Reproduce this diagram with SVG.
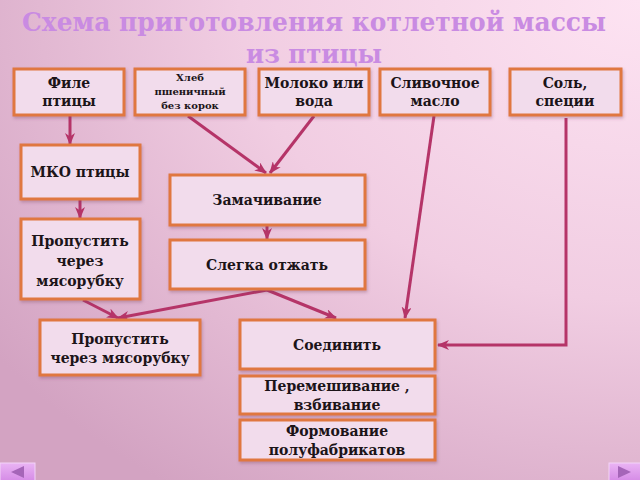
<svg xmlns="http://www.w3.org/2000/svg" width="640" height="480" viewBox="0 0 640 480">
<defs>
<radialGradient id="bg" cx="1" cy="0" r="1.25" gradientUnits="objectBoundingBox">
<stop offset="0" stop-color="#fde3f2"/>
<stop offset="0.5" stop-color="#f1cde2"/>
<stop offset="1" stop-color="#d3a3c2"/>
</radialGradient>
<linearGradient id="btn" x1="0" y1="0" x2="0" y2="1">
<stop offset="0" stop-color="#eab4f4"/>
<stop offset="1" stop-color="#d58be6"/>
</linearGradient>
<filter id="sh" x="-10%" y="-10%" width="120%" height="130%">
<feDropShadow dx="1" dy="2" stdDeviation="1.5" flood-color="#7a4060" flood-opacity="0.35"/>
</filter>
<marker id="ah" viewBox="0 0 12 10" refX="11" refY="5" markerWidth="12" markerHeight="10" markerUnits="userSpaceOnUse" orient="auto">
<path d="M0,0 L12,5 L0,10 L3.5,5 z" fill="#b53468"/>
</marker>
<style>
.box{fill:#f2dcec;stroke:#e0773f;stroke-width:3;filter:url(#sh)}
.t{font-family:"DejaVu Serif","Liberation Serif",serif;font-weight:bold;fill:#1c1418;text-anchor:middle}
.c{fill:none;stroke:#b53468;stroke-width:3;marker-end:url(#ah)}
.title{font-family:"DejaVu Serif","Liberation Serif",serif;font-weight:bold;fill:#c98be2;text-anchor:middle}
</style>
</defs>
<rect width="640" height="480" fill="url(#bg)"/>
<g id="title">
<text class="title" x="314" y="31" font-size="26" textLength="584" lengthAdjust="spacingAndGlyphs">Схема приготовления котлетной массы</text>
<text class="title" x="314" y="63" font-size="26" textLength="136" lengthAdjust="spacingAndGlyphs">из птицы</text>
</g>
<g id="connectors">
<line class="c" x1="70" y1="116" x2="70" y2="144"/>
<line class="c" x1="80" y1="200" x2="80" y2="218"/>
<line class="c" x1="188" y1="116" x2="266" y2="173"/>
<line class="c" x1="314" y1="116" x2="270" y2="173"/>
<line class="c" x1="267" y1="226" x2="267" y2="239"/>
<line class="c" x1="267" y1="290" x2="118" y2="318"/>
<line class="c" x1="83" y1="300" x2="118" y2="318"/>
<line class="c" x1="267" y1="290" x2="336" y2="318"/>
<line class="c" x1="434" y1="116" x2="405" y2="318"/>
<polyline class="c" points="566,118 566,345 438,345"/>
</g>
<g id="n-file"><rect class="box" x="14" y="69" width="110" height="46"/><text class="t" font-size="14" x="69" y="88">Филе</text><text class="t" font-size="14" x="69" y="106">птицы</text></g>
<g id="n-hleb"><rect class="box" x="135" y="69" width="110" height="46"/><text class="t" font-size="10" x="190" y="81">Хлеб</text><text class="t" font-size="10" x="190" y="95">пшеничный</text><text class="t" font-size="10" x="190" y="109">без корок</text></g>
<g id="n-moloko"><rect class="box" x="259" y="69" width="110" height="46"/><text class="t" font-size="14" x="314" y="88">Молоко или</text><text class="t" font-size="14" x="314" y="106">вода</text></g>
<g id="n-maslo"><rect class="box" x="380" y="69" width="110" height="46"/><text class="t" font-size="14" x="435" y="88">Сливочное</text><text class="t" font-size="14" x="435" y="106">масло</text></g>
<g id="n-sol"><rect class="box" x="510" y="69" width="111" height="46"/><text class="t" font-size="14" x="565" y="88">Соль,</text><text class="t" font-size="14" x="565" y="106">специи</text></g>
<g id="n-mko"><rect class="box" x="21" y="145" width="119" height="54"/><text class="t" font-size="14" x="80" y="177">МКО птицы</text></g>
<g id="n-prop1"><rect class="box" x="21" y="219" width="119" height="80"/><text class="t" font-size="14" x="80" y="246">Пропустить</text><text class="t" font-size="14" x="80" y="266">через</text><text class="t" font-size="14" x="80" y="286">мясорубку</text></g>
<g id="n-zamach"><rect class="box" x="170" y="175" width="195" height="50"/><text class="t" font-size="14" x="267" y="205">Замачивание</text></g>
<g id="n-otzhat"><rect class="box" x="170" y="240" width="195" height="49"/><text class="t" font-size="14" x="267" y="270">Слегка отжать</text></g>
<g id="n-prop2"><rect class="box" x="40" y="320" width="160" height="55"/><text class="t" font-size="14" x="120" y="344">Пропустить</text><text class="t" font-size="14" x="120" y="363">через мясорубку</text></g>
<g id="n-soed"><rect class="box" x="240" y="320" width="195" height="49"/><text class="t" font-size="14" x="337" y="350">Соединить</text></g>
<g id="n-peremesh"><rect class="box" x="240" y="376" width="195" height="38"/><text class="t" font-size="14" x="337" y="391">Перемешивание ,</text><text class="t" font-size="14" x="337" y="410">взбивание</text></g>
<g id="n-formov"><rect class="box" x="240" y="420" width="195" height="40"/><text class="t" font-size="14" x="337" y="436">Формование</text><text class="t" font-size="14" x="337" y="455">полуфабрикатов</text></g>
<g id="nav">
<rect x="0" y="463" width="35" height="18" fill="url(#btn)" stroke="#f3d3f8" stroke-width="1"/>
<polygon points="11,472 24,466 24,478" fill="#a565b8"/>
<rect x="609" y="463" width="32" height="18" fill="url(#btn)" stroke="#f3d3f8" stroke-width="1"/>
<polygon points="631,472 618,466 618,478" fill="#a565b8"/>
</g>
</svg>
